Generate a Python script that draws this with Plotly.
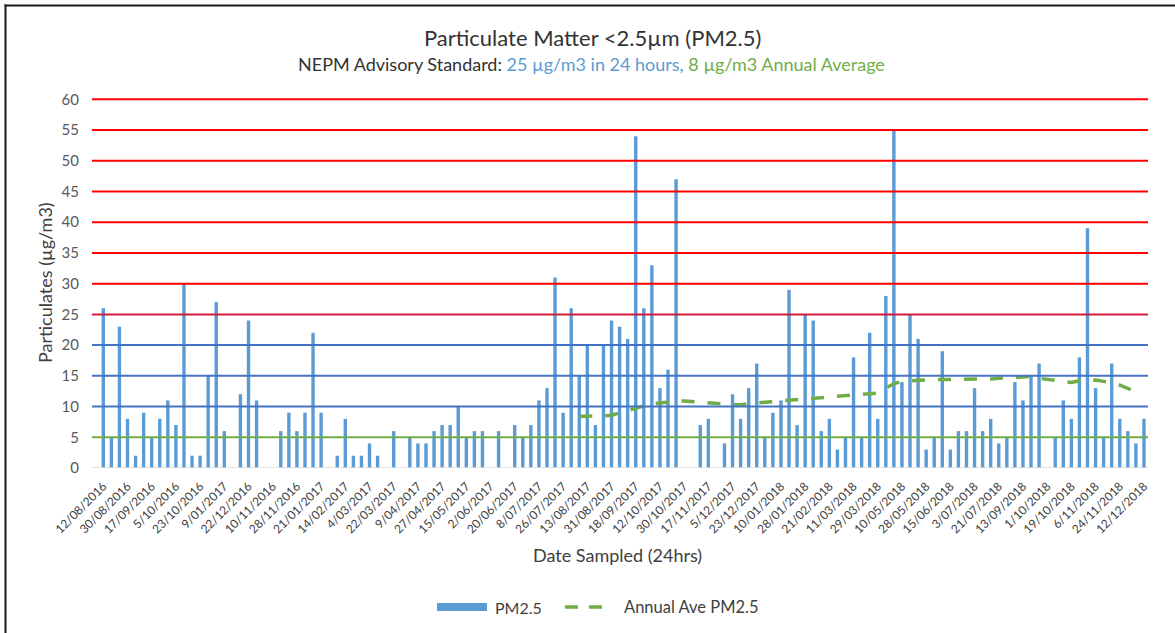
import plotly.graph_objects as go

# ---------------- data ----------------
tick_labels = [
    "12/08/2016", "30/08/2016", "17/09/2016", "5/10/2016", "23/10/2016", "9/01/2017",
    "22/12/2016", "10/11/2016", "28/11/2016", "21/01/2017", "14/02/2017", "4/03/2017",
    "22/03/2017", "9/04/2017", "27/04/2017", "15/05/2017", "2/06/2017", "20/06/2017",
    "8/07/2017", "26/07/2017", "13/08/2017", "31/08/2017", "18/09/2017", "12/10/2017",
    "30/10/2017", "17/11/2017", "5/12/2017", "23/12/2017", "10/01/2018", "28/01/2018",
    "21/02/2018", "11/03/2018", "29/03/2018", "10/05/2018", "28/05/2018", "15/06/2018",
    "3/07/2018", "21/07/2018", "13/09/2018", "1/10/2018", "19/10/2018", "6/11/2018",
    "24/11/2018", "12/12/2018",
]
label_every = 3  # one date label per three samples

pm25 = [
    26, 5, 23, 8, 2, 9, 5, 8, 11, 7,
    30, 2, 2, 15, 27, 6, None, 12, 24, 11,
    None, None, 6, 9, 6, 9, 22, 9, None, 2,
    8, 2, 2, 4, 2, None, 6, None, 5, 4,
    4, 6, 7, 7, 10, 5, 6, 6, None, 6,
    None, 7, 5, 7, 11, 13, 31, 9, 26, 15,
    20, 7, 20, 24, 23, 21, 54, 26, 33, 13,
    16, 47, None, None, 7, 8, None, 4, 12, 8,
    13, 17, 5, 9, 11, 29, 7, 25, 24, 6,
    8, 3, 5, 18, 5, 22, 8, 28, 55, 14,
    25, 21, 3, 5, 19, 3, 6, 6, 13, 6,
    8, 4, 5, 14, 11, 15, 17, None, 5, 11,
    8, 18, 39, 13, 5, 17, 8, 6, 4, 8,
]

annual_start = 59  # first sample with an annual average
annual_ave = [
    8.4, 8.4, 8.5, 8.5, 8.6, 9.0, 9.4, 9.8, 10.1, 10.4,
    10.6, 10.8, 10.9, 10.9, 10.8, 10.6, 10.5, 10.5, 10.4, 10.3,
    10.3, 10.5, 10.6, 10.7, 10.8, 11.0, 11.1, 11.2, 11.3, 11.4,
    11.4, 11.5, 11.6, 11.7, 11.8, 12.0, 12.1, 12.2, 13.0, 13.7,
    14.1, 14.2, 14.3, 14.3, 14.4, 14.4, 14.4, 14.4, 14.4, 14.4,
    14.5, 14.5, 14.6, 14.6, 14.7, 14.8, 14.9, 14.6, 14.4, 14.3,
    14.1, 13.9, 14.2, 14.3, 14.3, 14.1, 13.9, 13.5, 13.0, 12.4,
]

red_levels = [30, 35, 40, 45, 50, 55, 60]
crimson_levels = [25]
blue_levels = [10, 15, 20]
green_levels = [5]

# ---------------- figure ----------------
x_idx = list(range(len(pm25)))
x_avg = list(range(annual_start, annual_start + len(annual_ave)))

FONT = "Lato"
BLUE = "#5B9BD5"
GREEN = "#70AD47"

W, H = 1175, 633
PL, PR, PT, PB = 92, 1148, 96, 468   # plot area in page pixels

fig = go.Figure()
fig.add_trace(go.Bar(x=x_idx, y=pm25, name="PM2.5", marker_color=BLUE,
                     marker_line_width=0, width=0.42, showlegend=False))
fig.add_trace(go.Scatter(x=x_avg, y=annual_ave, name="Annual Ave PM2.5", mode="lines",
                         line=dict(color=GREEN, width=3.5, dash="13px,13px"),
                         showlegend=False))

shapes = []
for lvls, col in ((red_levels, "#FF0000"), (crimson_levels, "#D01C3C"),
                  (blue_levels, "#4472C4"), (green_levels, GREEN)):
    for v in lvls:
        shapes.append(dict(type="line", xref="paper", x0=0, x1=1, yref="y", y0=v, y1=v,
                           line=dict(color=col, width=2), layer="above"))
shapes.append(dict(type="line", xref="paper", x0=0, x1=1, yref="y", y0=0, y1=0,
                   line=dict(color="#D9D9D9", width=1.5), layer="above"))


def px_x(px):
    return (px - PL) / (PR - PL)


def px_y(py):
    return (PB - py) / (PB - PT)


# frame of the chart box
shapes.append(dict(type="line", xref="paper", yref="paper", x0=px_x(5.5), x1=px_x(5.5),
                   y0=px_y(4.5), y1=px_y(640), line=dict(color="#1a1a1a", width=2)))
shapes.append(dict(type="line", xref="paper", yref="paper", x0=px_x(4.5), x1=px_x(1180),
                   y0=px_y(5.5), y1=px_y(5.5), line=dict(color="#1a1a1a", width=2)))

# legend (manual)
leg_y = px_y(607)
shapes.append(dict(type="rect", xref="paper", yref="paper", x0=px_x(437), x1=px_x(487),
                   y0=px_y(611), y1=px_y(603), fillcolor=BLUE, line=dict(width=0)))
shapes.append(dict(type="line", xref="paper", yref="paper", x0=px_x(565), x1=px_x(608),
                   y0=leg_y, y1=leg_y, line=dict(color=GREEN, width=3.5, dash="13px,11px")))

annotations = [
    dict(text="Particulate Matter &lt;2.5µm (PM2.5)", xref="paper", yref="paper",
         x=px_x(592), y=px_y(38), showarrow=False, xanchor="center", yanchor="middle",
         font=dict(family=FONT, size=22, color="#333333")),
    dict(text="NEPM Advisory Standard: <span style='color:#5B9BD5'>25 µg/m3 in 24 hours,</span> "
              "<span style='color:#70AD47'>8 µg/m3 Annual Average</span>",
         xref="paper", yref="paper", x=px_x(591), y=px_y(64), showarrow=False,
         xanchor="center", yanchor="middle", font=dict(family=FONT, size=18, color="#333333")),
    dict(text="Particulates (µg/m3)", xref="paper", yref="paper", x=px_x(45), y=px_y(283),
         textangle=-90, showarrow=False, xanchor="center", yanchor="middle",
         font=dict(family=FONT, size=18, color="#404040")),
    dict(text="Date Sampled (24hrs)", xref="paper", yref="paper", x=px_x(617), y=px_y(555),
         showarrow=False, xanchor="center", yanchor="middle",
         font=dict(family=FONT, size=18, color="#404040")),
    dict(text="PM2.5", xref="paper", yref="paper", x=px_x(493), y=leg_y, showarrow=False,
         xanchor="left", yanchor="middle", font=dict(family=FONT, size=16, color="#404040")),
    dict(text="Annual Ave PM2.5", xref="paper", yref="paper", x=px_x(622), y=leg_y,
         showarrow=False, xanchor="left", yanchor="middle",
         font=dict(family=FONT, size=16.5, color="#404040")),
]

tickvals = [i * label_every for i in range(len(tick_labels))]
y_top = 60 * (PB - PT) / (PB - 99.3)  # 60 sits at y=99.3 px

fig.update_layout(
    width=W, height=H,
    margin=dict(l=PL, r=W - PR, t=PT, b=H - PB, autoexpand=False),
    paper_bgcolor="white", plot_bgcolor="white",
    shapes=shapes,
    annotations=annotations,
    xaxis=dict(range=[-1.4, 129.5], tickmode="array", tickvals=tickvals, ticktext=tick_labels,
               tickangle=-45, showgrid=False, zeroline=False, showline=False, ticks="",
               tickfont=dict(family=FONT, size=12, color="#404040"), ticklabelstandoff=8),
    yaxis=dict(range=[0, y_top], tickmode="array", tickvals=list(range(0, 61, 5)),
               showgrid=False, zeroline=False, showline=False, ticks="",
               tickfont=dict(family=FONT, size=15, color="#595959"), ticklabelstandoff=12),
)

fig.write_html("out.html", config={"displayModeBar": False},
               post_script="document.body.style.margin='0px';")
